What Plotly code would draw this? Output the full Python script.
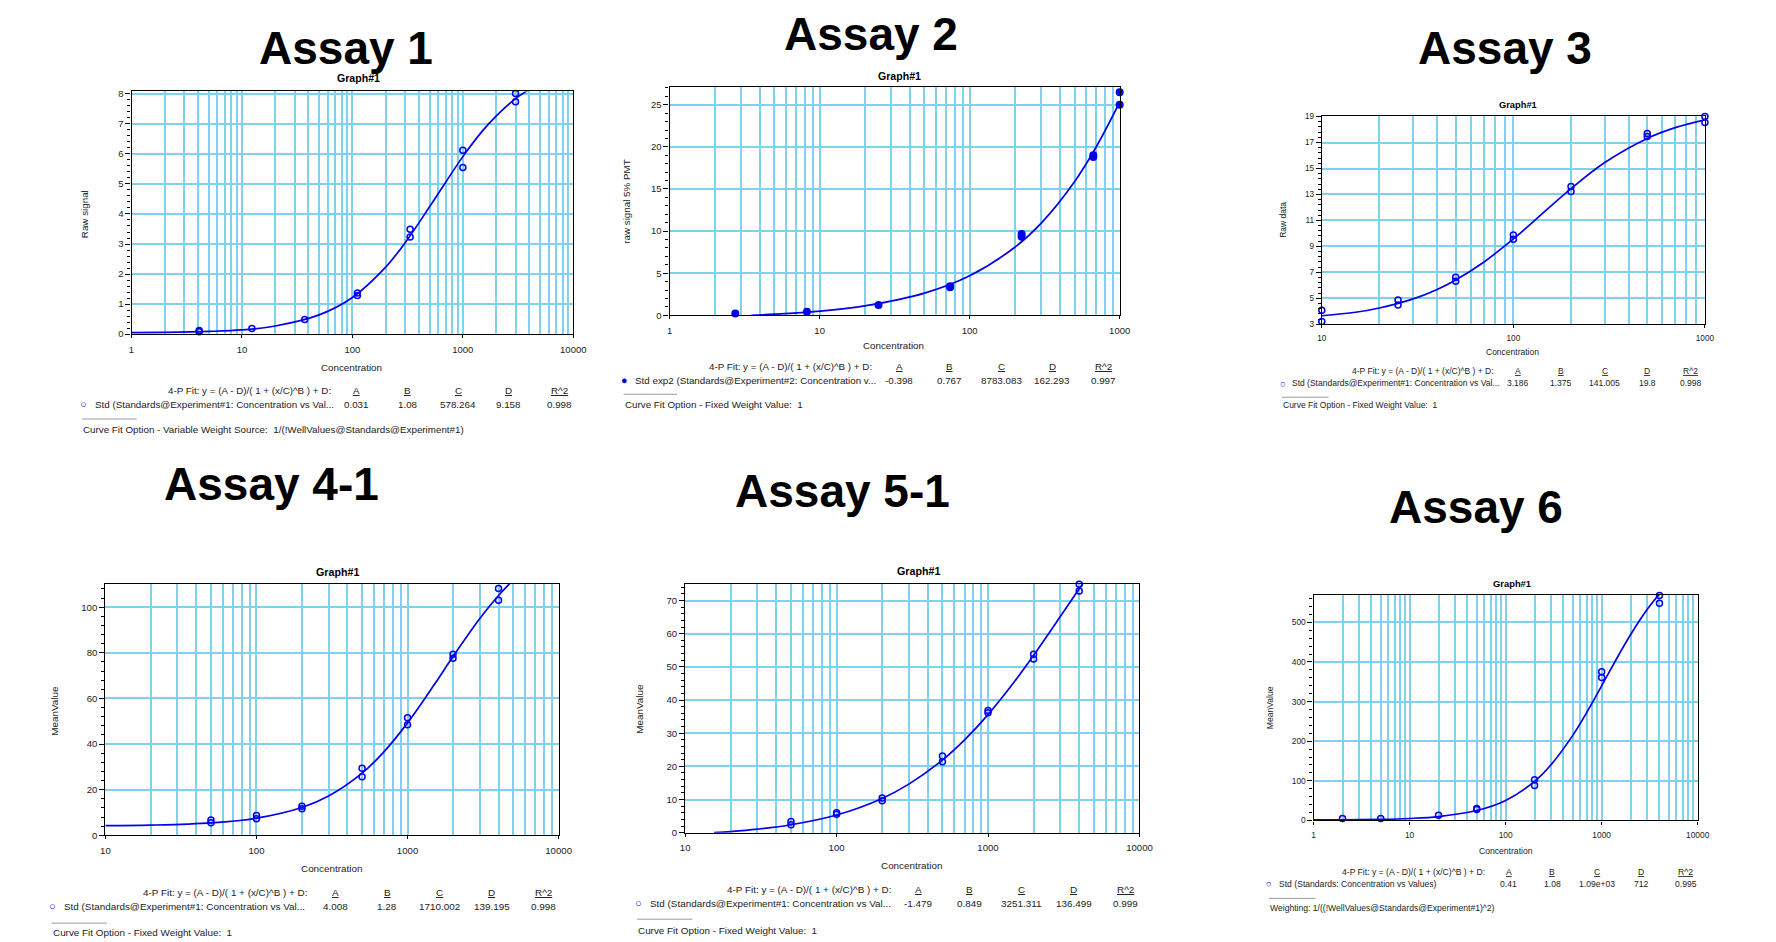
import plotly.graph_objects as go

W, H = 1776, 942

# ---------------- data ----------------
# Assay 1
a1_conc = [4.1, 4.1, 12.3, 37, 111, 111, 333, 333, 1000, 1000, 3000, 3000]
a1_signal = [0.12, 0.08, 0.19, 0.49, 1.37, 1.29, 3.49, 3.23, 6.12, 5.55, 8.01, 7.74]
a1_fit_x = [1, 2, 5, 10, 20, 50, 100, 200, 300, 500, 700, 1000, 1500, 2000, 3000, 4000]
a1_fit_y = [0.05, 0.06, 0.09, 0.14, 0.27, 0.64, 1.22, 2.23, 3.04, 4.24, 5.06, 5.91, 6.76, 7.26, 7.84, 8.15]
a1_params = ["0.031", "1.08", "578.264", "9.158", "0.998"]

# Assay 2
a2_conc = [2.74, 8.23, 24.7, 74.1, 74.1, 222, 222, 667, 667, 1000, 1000]
a2_signal = [0.2, 0.43, 1.21, 3.33, 3.45, 9.64, 9.33, 19.0, 18.8, 26.47, 25.0]
a2_fit_x = [3.5, 5, 10, 20, 50, 100, 200, 300, 500, 700, 1000]
a2_fit_y = [0.0, 0.13, 0.5, 1.12, 2.63, 4.69, 8.08, 10.95, 15.86, 20.04, 25.3]
a2_params = ["-0.398", "0.767", "8783.083", "162.293", "0.997"]

# Assay 3
a3_conc = [10, 10, 25, 25, 50, 50, 100, 100, 200, 200, 500, 500, 1000, 1000]
a3_signal = [4.07, 3.2, 4.86, 4.48, 6.62, 6.31, 9.88, 9.55, 13.62, 13.22, 17.7, 17.47, 19.0, 18.55]
a3_fit_x = [10, 15, 20, 30, 40, 50, 70, 100, 150, 200, 300, 500, 700, 1000]
a3_fit_y = [3.65, 3.92, 4.25, 4.95, 5.68, 6.41, 7.78, 9.57, 11.85, 13.45, 15.46, 17.32, 18.15, 18.75]
a3_params = ["3.186", "1.375", "141.005", "19.8", "0.998"]

# Assay 4-1
a4_conc = [50, 50, 100, 100, 200, 200, 500, 500, 1000, 1000, 2000, 2000, 4000, 4000]
a4_signal = [6.66, 5.5, 8.68, 7.24, 12.7, 11.6, 29.4, 25.6, 51.5, 48.5, 79.3, 77.6, 108.2, 103.0]
a4_fit_x = [10, 20, 50, 100, 200, 300, 500, 700, 1000, 1500, 2000, 3000, 4000, 5000]
a4_fit_y = [4.2, 4.46, 5.46, 7.49, 12.16, 17.17, 27.22, 36.69, 49.27, 65.95, 78.36, 94.92, 105.12, 111.88]
a4_params = ["4.008", "1.28", "1710.002", "139.195", "0.998"]

# Assay 5-1
a5_conc = [50, 50, 100, 100, 200, 200, 500, 500, 1000, 1000, 2000, 2000, 4000, 4000]
a5_signal = [3.39, 2.39, 5.98, 5.58, 10.46, 9.66, 23.1, 21.4, 36.85, 36.15, 53.8, 52.4, 74.9, 72.9]
a5_fit_x = [15.5, 20, 30, 50, 100, 200, 300, 500, 700, 1000, 1500, 2000, 3000, 4000, 4500]
a5_fit_y = [0.0, 0.33, 1.06, 2.4, 5.34, 10.34, 14.64, 21.9, 27.98, 35.6, 45.64, 53.48, 65.16, 73.56, 76.97]
a5_params = ["-1.479", "0.849", "3251.311", "136.499", "0.999"]

# Assay 6
a6_conc = [2, 5, 20, 50, 50, 200, 200, 1000, 1000, 4000, 4000]
a6_signal = [5, 5, 13.3, 30, 27.5, 102.5, 88.3, 375, 361, 568, 548]
a6_fit_x = [1, 2, 5, 10, 20, 50, 100, 200, 300, 500, 700, 1000, 1500, 2000, 3000, 4000]
a6_fit_y = [1.2, 1.4, 2.6, 4.9, 9.8, 25.0, 50.5, 98.7, 141.9, 214.7, 272.7, 339.7, 417.0, 468.8, 533.4, 571.7]
a6_params = ["0.41", "1.08", "1.09e+03", "712", "0.995"]

titles = ["Assay 1", "Assay 2", "Assay 3", "Assay 4-1", "Assay 5-1", "Assay 6"]
y_titles = ["Raw signal", "raw signal 5% PMT", "Raw data", "MeanValue", "MeanValue", "MeanValue"]
series_names = [
    "Std (Standards@Experiment#1: Concentration vs Val...",
    "Std exp2 (Standards@Experiment#2: Concentration v...",
    "Std (Standards@Experiment#1: Concentration vs Val...",
    "Std (Standards@Experiment#1: Concentration vs Val...",
    "Std (Standards@Experiment#1: Concentration vs Val...",
    "Std (Standards: Concentration vs Values)",
]
footers = [
    "Curve Fit Option - Variable Weight Source:  1/(!WellValues@Standards@Experiment#1)",
    "Curve Fit Option - Fixed Weight Value:  1",
    "Curve Fit Option - Fixed Weight Value:  1",
    "Curve Fit Option - Fixed Weight Value:  1",
    "Curve Fit Option - Fixed Weight Value:  1",
    "Weighting: 1/((!WellValues@Standards@Experiment#1)^2)",
]
param_heads = ["A", "B", "C", "D", "R^2"]
formula = "4-P Fit: y = (A - D)/( 1 + (x/C)^B ) + D:"

conc = [a1_conc, a2_conc, a3_conc, a4_conc, a5_conc, a6_conc]
signal = [a1_signal, a2_signal, a3_signal, a4_signal, a5_signal, a6_signal]
fit_x = [a1_fit_x, a2_fit_x, a3_fit_x, a4_fit_x, a5_fit_x, a6_fit_x]
fit_y = [a1_fit_y, a2_fit_y, a3_fit_y, a4_fit_y, a5_fit_y, a6_fit_y]
params = [a1_params, a2_params, a3_params, a4_params, a5_params, a6_params]

# ---------------- layout / style (pixels) ----------------
plot_box = [  # x0, x1, y0(top), y1(bottom)
    (127.8, 574.1, 88.3, 333.3),
    (671.4, 1126.1, 84.3, 314.3),
    (1330.3, 1717.3, 113.3, 323.3),
    (101.4, 559.3, 585.7, 839.3),
    (687.1, 1146.1, 585.3, 836.7),
    (1322.0, 1710.0, 596.7, 824.3),
]
x_decades = [(0, 4), (0, 3), (1, 3), (1, 4), (1, 4), (0, 4)]
y_ranges = [(0, 8.08), (0, 27.05), (3, 19.03), (0, 110.1), (0, 75.07), (0, 569)]
y_dtick = [1, 5, 2, 20, 10, 100]
y_tick0 = [0, 0, 1, 0, 0, 0]
y_minor = [0.2, 1, 0.4, 4, 2, 20]
title_pos = [(344, 44), (875, 30), (1515, 44), (269, 485), (846, 492), (1486, 508)]
graph_pos = [(357, 75), (904, 73), (1528, 102), (336, 573), (923, 572), (1522, 585)]
ytitle_pos = [(81, 212), (627, 200), (1291, 218), (50, 713), (641, 712), (1278, 711)]
conc_pos = [(350, 367), (898, 345), (1523, 351), (330, 873), (916, 870), (1516, 855)]
fit_right = [330, 877, 1505, 306, 896, 1496]
fit_rows = [(390, 404), (366, 380), (371, 383), (897, 911), (894, 908), (876, 888)]
col_x = [
    [355.5, 407, 457.7, 508.7, 560],
    [903.6, 954.6, 1006.4, 1057.9, 1109.6],
    [1528, 1572, 1616, 1659, 1703],
    [333.6, 386.1, 438.9, 491.8, 544.3],
    [922.9, 974.6, 1027.1, 1079.6, 1131.8],
    [1519, 1563, 1608, 1653, 1698],
]
legend_x = [(79.6, 90), (625.7, 635.7), (1291, 1299), (47.9, 58.6), (639.6, 650.4), (1277, 1286)]
sep = [(78, 133, 419), (625, 679, 394), (1290, 1337, 397), (47, 103, 928), (638.6, 694.3, 924), (1277, 1324, 903)]
footer_pos = [(78, 430), (625, 404), (1290, 405), (47, 937), (638.6, 935), (1277, 913)]
small = [9.8, 9.8, 8.5, 9.9, 9.9, 8.6]
tick_size = [9.5, 9.5, 8.2, 9.6, 9.6, 8.4]

FONT = "Liberation Sans, Arial, sans-serif"
GRID = "rgb(128,208,240)"
BLUE = "rgb(0,0,235)"
TXT = "#222222"

fig = go.Figure()
annotations = []
shapes = []


def px(x):
    return x / W


def py(y):
    return 1 - y / H


def ann(x, y, text, size, xanchor="center", color=TXT, angle=0):
    annotations.append(dict(
        x=px(x), y=py(y), xref="paper", yref="paper", text=text, showarrow=False,
        xanchor=xanchor, yanchor="middle", textangle=angle,
        font=dict(family=FONT, size=size, color=color), borderpad=0,
    ))


for i in range(6):
    n = i + 1
    xa = "x" if n == 1 else f"x{n}"
    ya = "y" if n == 1 else f"y{n}"
    x0, x1, y0, y1 = plot_box[i]
    d0, d1 = x_decades[i]
    major = [10 ** k for k in range(d0, d1 + 1)]
    minor = [m * 10 ** k for k in range(d0, d1) for m in range(2, 10)]

    fig.add_trace(go.Scatter(
        x=fit_x[i], y=fit_y[i], mode="lines", line=dict(color=BLUE, width=1.7, shape="spline"),
        xaxis=xa, yaxis=ya, showlegend=False, hoverinfo="skip",
    ))
    fig.add_trace(go.Scatter(
        x=conc[i], y=signal[i], mode="markers", cliponaxis=False,
        marker=dict(symbol="circle" if i == 1 else "circle-open", size=6.5 if i == 1 else 6,
                    color=BLUE, line=dict(color=BLUE, width=1.5)),
        xaxis=xa, yaxis=ya, showlegend=False, name=series_names[i],
    ))

    axis_common = dict(
        showline=True, linecolor="black", linewidth=1.3, mirror=True,
        showgrid=True, gridcolor=GRID, gridwidth=2, zeroline=False,
        tickfont=dict(family=FONT, size=tick_size[i], color=TXT),
    )
    fig.update_layout(**{
        ("xaxis" if n == 1 else f"xaxis{n}"): dict(
            axis_common, type="log", domain=[px(x0), px(x1)], anchor=ya,
            range=[d0, d1], tickmode="array", tickvals=major,
            ticktext=[str(v) for v in major], ticks="outside", ticklen=3,
            tickcolor="black", ticklabelstandoff=3,
            minor=dict(tickmode="array", tickvals=minor, showgrid=True,
                       gridcolor=GRID, gridwidth=2, ticks=""),
        ),
        ("yaxis" if n == 1 else f"yaxis{n}"): dict(
            axis_common, domain=[py(y1), py(y0)], anchor=xa,
            range=list(y_ranges[i]), tick0=y_tick0[i], dtick=y_dtick[i],
            ticks="outside", ticklen=5, tickcolor="black",
            minor=dict(dtick=y_minor[i], tick0=y_ranges[i][0], ticks="outside",
                       ticklen=3, tickcolor="black", showgrid=False),
        ),
    })

    # texts
    ann(*title_pos[i], f"<b>{titles[i]}</b>", 46, color="black")
    ann(*graph_pos[i], "<b>Graph#1</b>", small[i] + 0.8, color="black")
    ann(*ytitle_pos[i], y_titles[i], small[i], angle=-90)
    ann(*conc_pos[i], "Concentration", small[i])
    r1, r2 = fit_rows[i]
    ann(fit_right[i], r1, formula, small[i], xanchor="right")
    for cx, head, val in zip(col_x[i], param_heads, params[i]):
        ann(cx, r1, f"<span style='text-decoration:underline'>{head}</span>", small[i])
        ann(cx, r2, val, small[i])
    mx, tx = legend_x[i]
    ann(mx, r2, "●" if i == 1 else "○", small[i] + 1, color=BLUE)
    ann(tx, r2, series_names[i], small[i], xanchor="left")
    sx0, sx1, sy = sep[i]
    shapes.append(dict(type="line", xref="paper", yref="paper", x0=px(sx0), x1=px(sx1),
                       y0=py(sy), y1=py(sy), line=dict(color="#999999", width=1)))
    ann(footer_pos[i][0], footer_pos[i][1], footers[i], small[i], xanchor="left")

fig.update_layout(
    width=W, height=H, autosize=False,
    margin=dict(l=0, r=0, t=0, b=0),
    paper_bgcolor="white", plot_bgcolor="white",
    annotations=annotations, shapes=shapes, showlegend=False,
    font=dict(family=FONT, color=TXT),
)

fig.write_html("out.html", config={"displayModeBar": False},
               post_script="document.body.style.margin='0px';document.body.style.overflow='hidden';")
